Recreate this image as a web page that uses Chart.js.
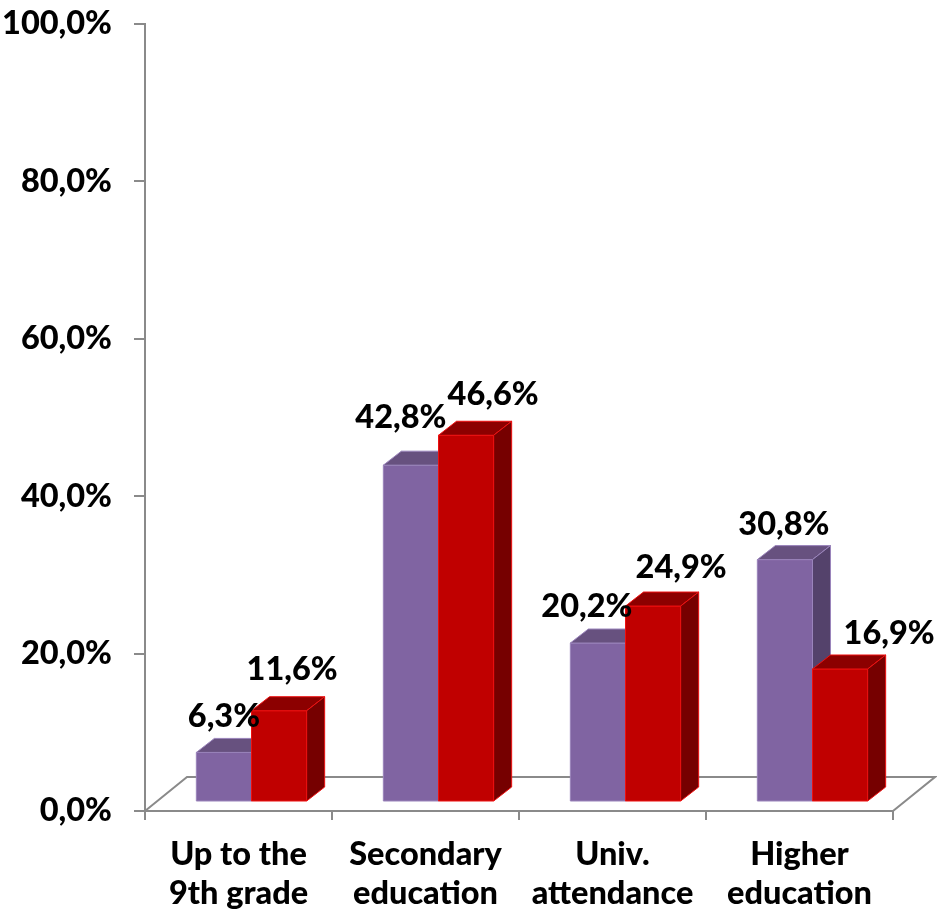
<!DOCTYPE html>
<html>
<head>
<meta charset="utf-8">
<script src="https://cdn.jsdelivr.net/npm/chart.js@4/dist/chart.umd.min.js"></script>
<style>
  html, body { margin: 0; padding: 0; background: #ffffff; }
  #wrap { width: 937px; height: 913px; }
</style>
</head>
<body>
<div id="wrap"><canvas id="chart" width="937" height="913"></canvas></div>
<script>
// Education level shares, two groups
const categories = [
  ["Up to the", "9th grade"],
  ["Secondary", "education"],
  ["Univ.", "attendance"],
  ["Higher", "education"]
];
const seriesPurple = [6.3, 42.8, 20.2, 30.8];
const seriesRed = [11.6, 46.6, 24.9, 16.9];
const yTickValues = [0, 20, 40, 60, 80, 100];

// Hand placement of value labels [dx, dy] relative to each bar's front face
const labelNudgePurple = [[0, 1], [-10, -11], [-11, 0], [-1, 1]];
const labelNudgeRed = [[13, -5], [27, -4], [28, -2], [49, 1]];

const AXIS_GREY = '#8a8a8a';
const FONT = { family: 'Lato, "Open Sans", sans-serif', weight: '900', size: 32.5 };

// Oblique projection offsets for the pseudo-3D look
const FRONT_SHIFT = { dx: 13, dy: -9 };   // bars stand slightly inside the floor
const BAR_DEPTH = { dx: 18, dy: -14 };    // depth of each column
const FLOOR_DEPTH = { dx: 42, dy: -34 };  // depth of the floor plate

const faces = {
  purple: { front: '#8064a2', top: '#67517f', side: '#54426b', edge: '#9a84bb' },
  red: { front: '#c00000', top: '#8c0000', side: '#760000', edge: '#ee1010' }
};

function fmt(v) {
  return v.toFixed(1).replace('.', ',') + '%';
}

function poly(ctx, pts, fill, stroke) {
  ctx.beginPath();
  ctx.moveTo(pts[0][0], pts[0][1]);
  for (let i = 1; i < pts.length; i++) ctx.lineTo(pts[i][0], pts[i][1]);
  ctx.closePath();
  ctx.fillStyle = fill;
  ctx.fill();
  ctx.strokeStyle = stroke;
  ctx.lineWidth = 1;
  ctx.stroke();
}

function drawColumn(ctx, el, pal) {
  const x0 = el.x - el.width / 2 + FRONT_SHIFT.dx;
  const x1 = el.x + el.width / 2 + FRONT_SHIFT.dx;
  const yt = el.y + FRONT_SHIFT.dy;
  const yb = el.base + FRONT_SHIFT.dy;
  const dx = BAR_DEPTH.dx, dy = BAR_DEPTH.dy;
  // front
  poly(ctx, [[x0, yt], [x1, yt], [x1, yb], [x0, yb]], pal.front, pal.edge);
  // top
  poly(ctx, [[x0, yt], [x1, yt], [x1 + dx, yt + dy], [x0 + dx, yt + dy]], pal.top, pal.edge);
  // right side
  poly(ctx, [[x1, yt], [x1 + dx, yt + dy], [x1 + dx, yb + dy], [x1, yb]], pal.side, pal.edge);
}

const columns3d = {
  id: 'columns3d',
  beforeDatasetsDraw(chart) {
    const ctx = chart.ctx;
    const xs = chart.scales.x, ys = chart.scales.y;
    const y0 = ys.getPixelForValue(0);
    const L = xs.left, R = xs.right;
    // floor plate outline
    ctx.save();
    ctx.strokeStyle = AXIS_GREY;
    ctx.lineWidth = 2;
    ctx.beginPath();
    ctx.moveTo(L, y0);
    ctx.lineTo(L + FLOOR_DEPTH.dx, y0 + FLOOR_DEPTH.dy);
    ctx.lineTo(R + FLOOR_DEPTH.dx, y0 + FLOOR_DEPTH.dy);
    ctx.lineTo(R, y0);
    ctx.stroke();
    ctx.restore();

    // columns, group by group so that neighbours overlap correctly
    const metaP = chart.getDatasetMeta(0);
    const metaR = chart.getDatasetMeta(1);
    ctx.save();
    for (let i = 0; i < categories.length; i++) {
      drawColumn(ctx, metaP.data[i], faces.purple);
      drawColumn(ctx, metaR.data[i], faces.red);
    }
    ctx.restore();
    return false;
  },
  afterDraw(chart) {
    const ctx = chart.ctx;
    const metaP = chart.getDatasetMeta(0);
    const metaR = chart.getDatasetMeta(1);
    ctx.save();
    ctx.font = `${FONT.weight} ${FONT.size}px ${FONT.family}`;
    ctx.fillStyle = '#000000';
    ctx.textAlign = 'center';
    ctx.textBaseline = 'alphabetic';
    const put = (el, v, nudge) => {
      const x = el.x + FRONT_SHIFT.dx + nudge[0];
      const y = el.y + FRONT_SHIFT.dy - 26 + nudge[1];
      ctx.fillText(fmt(v), x, y);
    };
    for (let i = 0; i < categories.length; i++) {
      put(metaP.data[i], seriesPurple[i], labelNudgePurple[i]);
      put(metaR.data[i], seriesRed[i], labelNudgeRed[i]);
    }
    ctx.restore();
  }
};

function build() {
  new Chart(document.getElementById('chart'), {
    type: 'bar',
    data: {
      labels: categories,
      datasets: [
        { data: seriesPurple, backgroundColor: faces.purple.front, categoryPercentage: 0.59, barPercentage: 1.0 },
        { data: seriesRed, backgroundColor: faces.red.front, categoryPercentage: 0.59, barPercentage: 1.0 }
      ]
    },
    options: {
      responsive: false,
      animation: false,
      devicePixelRatio: 1,
      layout: { padding: { top: 24, right: 44, left: 0, bottom: 0 } },
      plugins: { legend: { display: false }, tooltip: { enabled: false } },
      scales: {
        x: {
          offset: true,
          grid: { offset: true, drawOnChartArea: false, drawTicks: true, tickLength: 9, color: AXIS_GREY, lineWidth: 2 },
          border: { display: true, color: AXIS_GREY, width: 2 },
          ticks: { font: FONT, color: '#000000', padding: 15, maxRotation: 0, minRotation: 0, autoSkip: false },
          afterFit(s) { s.height = 102; s.paddingLeft = 0; s.paddingRight = 0; }
        },
        y: {
          min: 0,
          max: 100,
          afterBuildTicks(s) { s.ticks = yTickValues.map(v => ({ value: v })); },
          grid: { drawOnChartArea: false, drawTicks: true, tickLength: 11, color: AXIS_GREY, lineWidth: 2 },
          border: { display: true, color: AXIS_GREY, width: 2 },
          ticks: { font: FONT, color: '#000000', padding: 22, callback: v => fmt(v) },
          afterFit(s) { s.width = 145; s.paddingTop = 0; s.paddingBottom = 0; }
        }
      }
    },
    plugins: [columns3d]
  });
}

if (document.fonts && document.fonts.load) {
  document.fonts.load('900 32.5px Lato').then(build, build);
} else {
  build();
}
</script>
</body>
</html>
